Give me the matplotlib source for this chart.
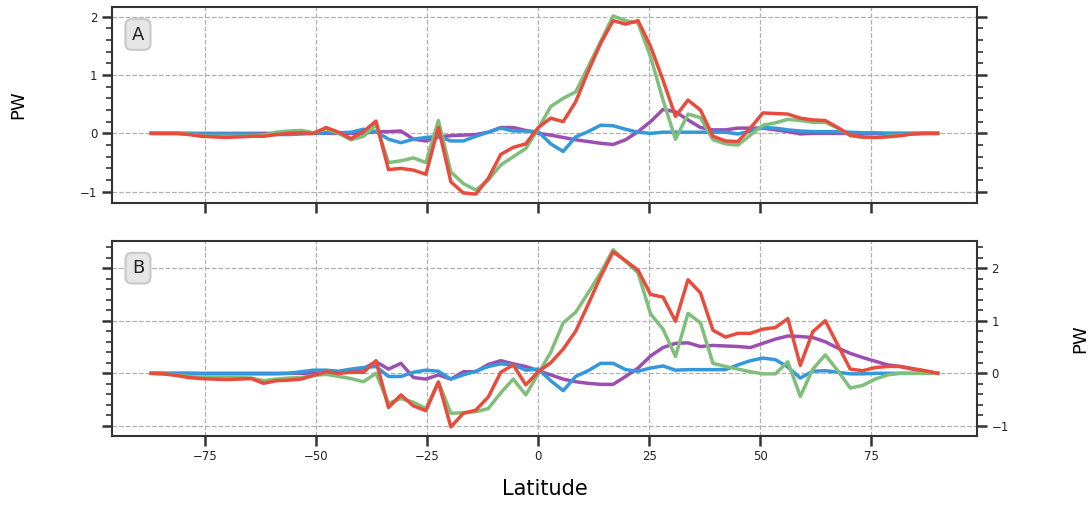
import numpy as np
import matplotlib.pyplot as plt
from matplotlib.ticker import MultipleLocator, AutoMinorLocator

# latitude grid (T42-like spacing, 64 rows)
lat = np.arange(-31, 33) * 2.8125

# panel A
a_purple = [0, 0, 0, 0, 0, 0, 0, 0, 0, 0, 0, 0, 0, 0, 0, 0, 0, 0, 0.03, 0.03, 0.04, -0.1, -0.13, -0.06,
            -0.04, -0.03, -0.02, 0.02, 0.1, 0.1, 0.05, 0.0,
            -0.03, -0.07, -0.11, -0.14, -0.17, -0.19, -0.11, 0.03, 0.2, 0.41, 0.37, 0.23, 0.1, 0.06, 0.06, 0.09,
            0.09, 0.09, 0.06, 0.03, -0.01, 0, 0, 0, 0, 0, 0, 0, 0, 0, 0, 0]
a_blue = [0, 0, 0, 0, -0.01, -0.01, -0.01, -0.01, -0.01, -0.02, -0.02, -0.02, -0.01, 0.0, 0.01, 0.01,
          0.02, 0.07, 0.03, -0.1, -0.16, -0.1, -0.07, -0.05, -0.13, -0.13, -0.05, 0.02, 0.09, 0.04, 0.04, 0.03,
          -0.18, -0.31, -0.06, 0.03, 0.14, 0.13, 0.07, 0.02, 0.0, 0.02, 0.02, 0.02, 0.02, 0.02, 0.02, -0.01,
          0.04, 0.1, 0.09, 0.06, 0.04, 0.03, 0.03, 0.03, 0.02, 0.01, 0.01, 0, 0, 0, 0, 0]
a_green = [0, 0, 0, -0.01, -0.04, -0.05, -0.05, -0.05, -0.04, -0.03, 0.02, 0.04, 0.05, 0.01, 0.08, 0.0,
           -0.11, -0.05, 0.15, -0.5, -0.47, -0.42, -0.5, 0.22, -0.66, -0.86, -0.97, -0.8, -0.54, -0.4, -0.26, 0.08,
           0.46, 0.6, 0.71, 1.14, 1.57, 2.01, 1.93, 1.89, 1.31, 0.57, -0.1, 0.33, 0.27, -0.11, -0.18, -0.2,
           -0.03, 0.14, 0.18, 0.24, 0.22, 0.19, 0.19, 0.09, -0.04, -0.07, -0.07, -0.05, -0.03, -0.01, 0, 0]
a_red = [0, 0, 0, -0.02, -0.05, -0.06, -0.07, -0.06, -0.05, -0.05, -0.02, 0.0, 0.01, 0.0, 0.1, 0.02,
         -0.09, 0.03, 0.21, -0.62, -0.6, -0.63, -0.7, 0.1, -0.83, -1.02, -1.04, -0.77, -0.36, -0.24, -0.18, 0.1,
         0.26, 0.2, 0.54, 1.06, 1.54, 1.93, 1.87, 1.93, 1.49, 0.91, 0.29, 0.57, 0.4, -0.05, -0.13, -0.14,
         0.09, 0.35, 0.34, 0.33, 0.26, 0.23, 0.22, 0.1, -0.03, -0.06, -0.07, -0.06, -0.04, -0.01, 0, 0]

# panel B
b_purple = [0, 0, 0, 0, 0, 0, 0, 0, 0, 0, 0, 0, 0, 0, 0, 0, 0.05, 0.09, 0.22, 0.08, 0.19, -0.08, -0.11, -0.03,
            -0.11, 0.03, 0.03, 0.17, 0.24, 0.18, 0.13, 0.05,
            -0.03, -0.11, -0.16, -0.19, -0.21, -0.21, -0.06, 0.1, 0.33, 0.49, 0.57, 0.58, 0.51, 0.53, 0.52, 0.51,
            0.49, 0.57, 0.65, 0.71, 0.7, 0.68, 0.6, 0.48, 0.38, 0.3, 0.23, 0.16, 0.13, 0.08, 0.04, 0]
b_blue = [0, 0, 0, 0, -0.01, -0.01, -0.01, -0.01, -0.01, -0.01, -0.01, 0, 0.03, 0.06, 0.06, 0.04,
          0.08, 0.11, 0.13, -0.06, -0.06, 0.02, 0.06, 0.04, -0.11, -0.03, 0.04, 0.13, 0.18, 0.16, 0.06, 0.08,
          -0.14, -0.33, -0.06, 0.05, 0.19, 0.19, 0.07, 0.04, 0.1, 0.14, 0.06, 0.07, 0.07, 0.07, 0.07, 0.16,
          0.24, 0.29, 0.26, 0.12, -0.09, 0.04, 0.05, 0.02, -0.01, -0.01, 0, 0, 0, 0, 0, 0]
b_green = [0, -0.01, -0.03, -0.06, -0.08, -0.08, -0.08, -0.08, -0.09, -0.14, -0.11, -0.09, -0.08, -0.04, -0.02, -0.06,
           -0.1, -0.16, 0.0, -0.57, -0.48, -0.55, -0.67, -0.16, -0.76, -0.75, -0.73, -0.67, -0.37, -0.11, -0.41, -0.01,
           0.4, 0.96, 1.16, 1.53, 1.91, 2.35, 2.13, 1.91, 1.13, 0.84, 0.32, 1.14, 0.96, 0.19, 0.13, 0.08,
           0.03, -0.01, -0.01, 0.22, -0.44, 0.08, 0.35, 0.05, -0.28, -0.23, -0.11, -0.03, 0, 0, 0, 0]
b_red = [0, -0.01, -0.04, -0.08, -0.1, -0.11, -0.12, -0.11, -0.1, -0.19, -0.14, -0.13, -0.11, -0.04, 0.03, 0.0,
         0.02, 0.02, 0.24, -0.65, -0.41, -0.62, -0.71, -0.17, -1.02, -0.76, -0.7, -0.45, 0.02, 0.16, -0.22, 0.03,
         0.2, 0.46, 0.8, 1.31, 1.84, 2.31, 2.14, 1.96, 1.5, 1.45, 0.99, 1.78, 1.53, 0.82, 0.69, 0.76,
         0.76, 0.84, 0.87, 1.04, 0.15, 0.79, 1.0, 0.54, 0.08, 0.05, 0.11, 0.13, 0.13, 0.09, 0.05, 0]

colors = {'purple': '#9b4fb0', 'blue': '#3498db', 'green': '#7fbf7b', 'red': '#e74c3c'}
spine_col = '#333333'

fig = plt.figure(figsize=(10.92, 5.05), dpi=100)
ax_a = fig.add_axes([0.1026, 0.598, 0.792, 0.388])
ax_b = fig.add_axes([0.1026, 0.137, 0.792, 0.386], sharex=ax_a)

panels = [(ax_a, 'A', a_purple, a_blue, a_green, a_red),
          (ax_b, 'B', b_purple, b_blue, b_green, b_red)]

for ax, tag, p, b, g, r in panels:
    ax.plot(lat, p, color=colors['purple'], lw=2.5)
    ax.plot(lat, b, color=colors['blue'], lw=2.5)
    ax.plot(lat, g, color=colors['green'], lw=2.5)
    ax.plot(lat, r, color=colors['red'], lw=2.5)

    ax.grid(True, ls='--', color='#b0b0b0', lw=0.9)
    ax.set_axisbelow(True)
    ax.xaxis.set_major_locator(MultipleLocator(25))
    ax.yaxis.set_major_locator(MultipleLocator(1))
    ax.yaxis.set_minor_locator(AutoMinorLocator(5))
    for s in ax.spines.values():
        s.set_color(spine_col)
        s.set_linewidth(1.5)
    ax.tick_params(which='major', length=7, width=1.8, color=spine_col, labelsize=8.5, labelcolor='#222222')
    ax.tick_params(which='minor', length=4, width=1.2, color=spine_col)
    ax.tick_params(axis='y', which='both', left=True, right=True)

    ax.text(0.03, 0.86, tag, transform=ax.transAxes, fontsize=13, ha='center', va='center',
            color='#222222',
            bbox=dict(boxstyle='round,pad=0.35', fc='#e6e6e6', ec='#c8c8c8', lw=1.5))

ax_a.tick_params(axis='x', labelbottom=False)
ax_a.set_ylabel('PW', fontsize=13, labelpad=38)

ax_b.tick_params(axis='y', which='both', labelleft=False, labelright=True)
ax_b.yaxis.set_label_position('right')
ax_b.set_ylabel('PW', fontsize=13, labelpad=45)
ax_b.set_xlabel('Latitude', fontsize=15, labelpad=11)

fig.savefig('out.png', dpi=100)
